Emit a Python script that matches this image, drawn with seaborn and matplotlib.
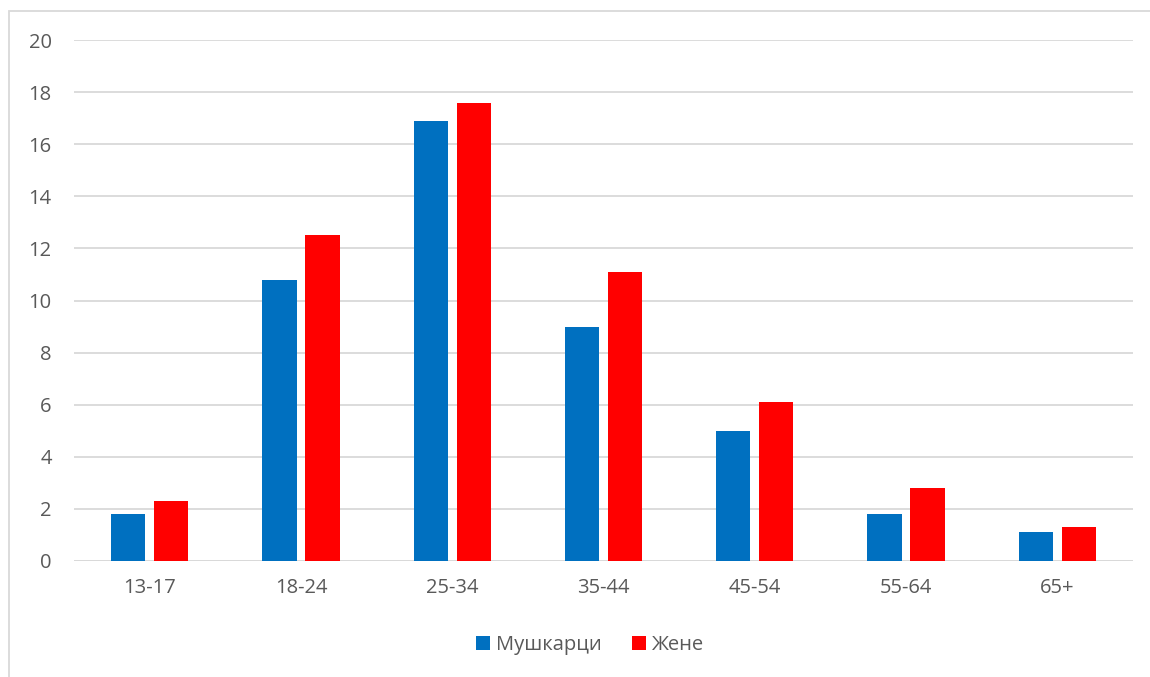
import matplotlib
matplotlib.use("Agg")
import matplotlib.pyplot as plt
import seaborn as sns
import pandas as pd
from matplotlib.patches import Rectangle

categories = ["13-17", "18-24", "25-34", "35-44", "45-54", "55-64", "65+"]
men = [1.8, 10.8, 16.9, 9.0, 5.0, 1.8, 1.1]
women = [2.3, 12.5, 17.6, 11.1, 6.1, 2.8, 1.3]
series_names = ["Мушкарци", "Жене"]
y_ticks = [0, 2, 4, 6, 8, 10, 12, 14, 16, 18, 20]

df = pd.DataFrame({
    "cat": categories * 2,
    "val": men + women,
    "series": [series_names[0]] * len(categories) + [series_names[1]] * len(categories),
})

sns.set_theme(style="white")
plt.rcParams["font.family"] = ["Open Sans", "DejaVu Sans"]
text_color = "#595959"

fig = plt.figure(figsize=(11.5, 6.77), dpi=100)
ax = fig.add_axes([74 / 1150, 1 - 561 / 677, (1133 - 74) / 1150, (561 - 40) / 677])

sns.barplot(data=df, x="cat", y="val", hue="series", order=categories,
            hue_order=series_names, palette=["#0070C0", "#FF0000"],
            width=0.567, gap=0.2, saturation=1, linewidth=0, ax=ax, legend=True)

ax.set_ylim(0, 20)
ax.set_xlim(-0.5, len(categories) - 0.5)
ax.set_yticks(y_ticks)
ax.set_yticklabels([str(t) for t in y_ticks])
ax.yaxis.grid(True, color="#D9D9D9", linewidth=1.3)
ax.set_axisbelow(True)
for s in ax.spines.values():
    s.set_visible(False)
ax.axhline(0, color="#D9D9D9", linewidth=1.3, zorder=0.5)
ax.set_xlabel("")
ax.set_ylabel("")
ax.tick_params(axis="both", length=0, labelsize=14.5, labelcolor=text_color)
ax.tick_params(axis="y", pad=16)
ax.tick_params(axis="x", pad=12)

leg = ax.legend(loc="center", bbox_to_anchor=(590 / 1150, 1 - 645 / 677),
                bbox_transform=fig.transFigure, ncol=2, frameon=False,
                fontsize=14.5, handlelength=0.7, handleheight=0.7,
                handletextpad=0.3, columnspacing=1.5)
for t in leg.get_texts():
    t.set_color(text_color)

fig.patches.append(Rectangle((9 / 1150, -0.1), 1.2, 1 - 11 / 677 + 0.1,
                             transform=fig.transFigure, fill=False,
                             edgecolor="#D9D9D9", linewidth=1.3))

fig.savefig("out.png", dpi=100)
